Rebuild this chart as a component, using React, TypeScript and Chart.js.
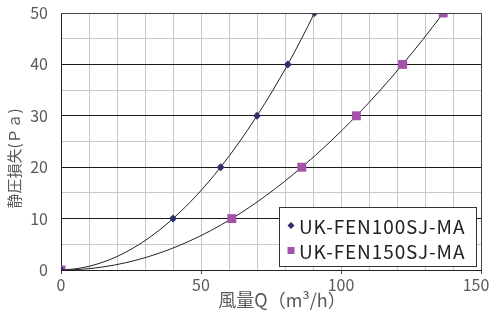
import React, { useEffect, useRef } from "react";
import { Chart, registerables } from "chart.js";

Chart.register(...registerables);

const seriesNames = ["UK-FEN100SJ-MA", "UK-FEN150SJ-MA"];
const flowA = [0, 40, 57, 70, 81, 90.5];
const pressureA = [0, 10, 20, 30, 40, 50];
const flowB = [0, 61, 86, 105.5, 122, 136.5];
const pressureB = [0, 10, 20, 30, 40, 50];
const xTitle = "風量Q（m³/h）";
const yTitle = "静圧損失(Ｐａ)";

const colorA = "#2d2f66";
const colorB = "#a452a9";
const FONT = "'Noto Sans CJK JP', 'Noto Sans', sans-serif";
const TEXT = "#595959";

// Smooth line: cubic Hermite with derivatives from 3-point quadratic estimates,
// mapped to pixels through the chart's own scales.
const smoothPlugin = {
  id: "quadSmooth",
  beforeDatasetDraw(chart: any, args: any) {
    const meta = chart.getDatasetMeta(args.index);
    const line = meta.dataset;
    const pts = meta.data;
    const raw = chart.data.datasets[args.index].data as { x: number; y: number }[];
    const n = raw.length;
    if (!line || n < 3) return;
    if (line.updateControlPoints) line.updateControlPoints(chart.chartArea, "x");
    const xs = chart.scales.x, ys = chart.scales.y;
    const h: number[] = [], d: number[] = [];
    for (let i = 0; i < n - 1; i++) {
      h[i] = raw[i + 1].x - raw[i].x;
      d[i] = (raw[i + 1].y - raw[i].y) / h[i];
    }
    const m: number[] = [];
    m[0] = Math.max(0, ((2 * h[0] + h[1]) * d[0] - h[0] * d[1]) / (h[0] + h[1]));
    for (let i = 1; i < n - 1; i++) {
      m[i] = (h[i - 1] * d[i] + h[i] * d[i - 1]) / (h[i - 1] + h[i]);
    }
    m[n - 1] = ((2 * h[n - 2] + h[n - 3]) * d[n - 2] - h[n - 2] * d[n - 3]) / (h[n - 2] + h[n - 3]);
    for (let i = 0; i < n; i++) {
      const p = pts[i];
      if (i > 0) {
        const dx = h[i - 1] / 3;
        p.cp1x = xs.getPixelForValue(raw[i].x - dx);
        p.cp1y = ys.getPixelForValue(raw[i].y - m[i] * dx);
      } else {
        p.cp1x = p.x; p.cp1y = p.y;
      }
      if (i < n - 1) {
        const dx = h[i] / 3;
        p.cp2x = xs.getPixelForValue(raw[i].x + dx);
        p.cp2y = ys.getPixelForValue(raw[i].y + m[i] * dx);
      } else {
        p.cp2x = p.x; p.cp2y = p.y;
      }
    }
    line._pointsUpdated = true;
    line._path = undefined;
  },
};

// keep the last x tick label inside the canvas, as in the reference
const lastLabelPlugin = {
  id: "lastLabel",
  beforeDraw(chart: any) {
    const sx = chart.scales.x;
    if (!sx || !sx.getLabelItems) return;
    const items = sx.getLabelItems(chart.chartArea);
    for (const it of items) {
      if (String(it.label) === "150" && it.options && it.options.translation) {
        it.options.translation[0] = chart.chartArea.right - 5;
      }
    }
  },
};

const legendPlugin = {
  id: "insideLegend",
  afterDraw(chart: any) {
    const ctx = chart.ctx;
    const x0 = 279, y0 = 207, w = 197, h = 59;
    ctx.save();
    ctx.fillStyle = "#ffffff";
    ctx.fillRect(x0, y0, w, h);
    ctx.strokeStyle = "#333333";
    ctx.lineWidth = 1;
    ctx.strokeRect(x0 + 0.5, y0 + 0.5, w, h);
    ctx.font = `19px ${FONT}`;
    try { (ctx as any).letterSpacing = "0.9px"; } catch (e) {}
    ctx.textBaseline = "middle";
    const rows = [y0 + 18.5, y0 + 43.5];
    chart.data.datasets.forEach((ds: any, i: number) => {
      const cy = rows[i];
      const cx = x0 + 12;
      ctx.fillStyle = ds.backgroundColor;
      if (i === 0) {
        ctx.beginPath();
        ctx.moveTo(cx, cy - 3.5);
        ctx.lineTo(cx + 3.5, cy);
        ctx.lineTo(cx, cy + 3.5);
        ctx.lineTo(cx - 3.5, cy);
        ctx.closePath();
        ctx.fill();
      } else {
        ctx.fillRect(cx - 3.5, cy - 3.5, 7, 7);
      }
      ctx.fillStyle = "#222222";
      ctx.fillText(ds.label, x0 + 20, cy + 1);
    });
    ctx.restore();
  },
};

const titlePlugin = {
  id: "axisTitles",
  afterDraw(chart: any) {
    const ctx = chart.ctx;
    const a = chart.chartArea;
    ctx.save();
    ctx.fillStyle = TEXT;
    ctx.textAlign = "center";
    ctx.textBaseline = "middle";
    ctx.font = `18px ${FONT}`;
    ctx.fillText(xTitle, (a.left + a.right) / 2 + 11, 300);
    ctx.translate(14, (a.top + a.bottom) / 2 + 17);
    ctx.rotate(-Math.PI / 2);
    ctx.font = `15px ${FONT}`;
    ctx.fillText(yTitle, 0, 0);
    ctx.restore();
  },
};

const framePlugin = {
  id: "frame",
  afterDatasetsDraw(chart: any) {
    const { ctx, chartArea: a } = chart;
    ctx.save();
    ctx.strokeStyle = "#444444";
    ctx.lineWidth = 1;
    ctx.beginPath();
    ctx.moveTo(a.left, a.top + 0.5);
    ctx.lineTo(a.right + 0.5, a.top + 0.5);
    ctx.lineTo(a.right + 0.5, a.bottom);
    ctx.stroke();
    ctx.restore();
  },
};

export default function App() {
  const ref = useRef<HTMLCanvasElement | null>(null);
  useEffect(() => {
    document.body.style.margin = "0";
    const canvas = ref.current!;
    const chart = new Chart(canvas, {
      type: "line",
      data: {
        datasets: [
          {
            label: seriesNames[0],
            data: flowA.map((x, i) => ({ x, y: pressureA[i] })),
            borderColor: "#222222",
            borderWidth: 1,
            backgroundColor: colorA,
            pointBackgroundColor: colorA,
            pointBorderColor: colorA,
            pointBorderWidth: 0,
            pointStyle: "rectRot",
            pointRadius: 4,
            cubicInterpolationMode: "monotone",
            fill: false,
          },
          {
            label: seriesNames[1],
            data: flowB.map((x, i) => ({ x, y: pressureB[i] })),
            borderColor: "#222222",
            borderWidth: 1,
            backgroundColor: colorB,
            pointBackgroundColor: colorB,
            pointBorderColor: colorB,
            pointBorderWidth: 0,
            pointStyle: "rect",
            pointRadius: 6.3,
            cubicInterpolationMode: "monotone",
            fill: false,
          },
        ],
      },
      options: {
        animation: false,
        responsive: false,
        maintainAspectRatio: false,
        layout: { padding: { left: 0, right: 8, top: 13, bottom: 0 } },
        plugins: {
          legend: { display: false },
          tooltip: { enabled: false },
        },
        scales: {
          x: {
            type: "linear",
            min: 0,
            max: 150,
            afterFit: (s: any) => {
              s.height = 41;
              s.paddingLeft = 0;
              s.paddingRight = 0;
            },
            ticks: {
              stepSize: 10,
              autoSkip: false,
              maxRotation: 0,
              padding: 1,
              color: TEXT,
              font: { family: FONT, size: 16 },
              callback: (v: any) => (Number(v) % 50 === 0 ? String(v) : ""),
            },
            grid: {
              color: "#c8c8c8",
              lineWidth: 1,
              drawTicks: true,
              tickLength: 4,
              tickColor: (c: any) => (c.tick && c.tick.value % 50 === 0 ? "#444444" : "rgba(0,0,0,0)"),
            },
            border: { color: "#222222", width: 1 },
            title: { display: false },
          },
          y: {
            type: "linear",
            min: 0,
            max: 50,
            afterFit: (s: any) => {
              s.width = 61;
              s.paddingTop = 0;
              s.paddingBottom = 0;
            },
            ticks: {
              stepSize: 5,
              autoSkip: false,
              padding: 13,
              color: TEXT,
              font: { family: FONT, size: 16 },
              callback: (v: any) => (Number(v) % 10 === 0 ? String(v) : ""),
            },
            grid: {
              color: (c: any) => (c.tick && c.tick.value % 10 === 0 ? "#1a1a1a" : "#c8c8c8"),
              lineWidth: 1,
              drawTicks: false,
            },
            border: { color: "#222222", width: 1 },
            title: { display: false },
          },
        },
      },
      plugins: [smoothPlugin, lastLabelPlugin, framePlugin, legendPlugin, titlePlugin],
    } as any);
    return () => chart.destroy();
  }, []);
  return <canvas ref={ref} width={489} height={311} style={{ display: "block" }} />;
}
